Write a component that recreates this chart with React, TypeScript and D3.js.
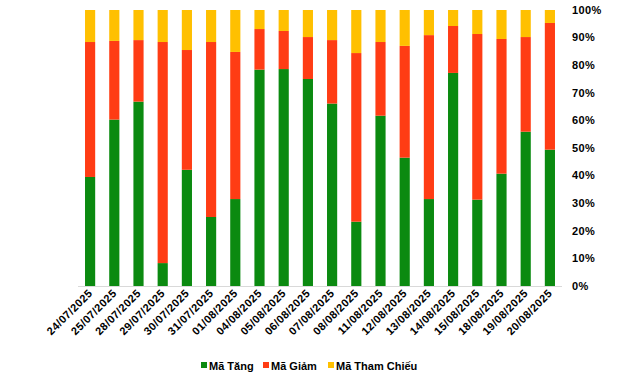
import React from "react";
import * as d3 from "d3";

const dates = ["24/07/2025","25/07/2025","28/07/2025","29/07/2025","30/07/2025","31/07/2025","01/08/2025","04/08/2025","05/08/2025","06/08/2025","07/08/2025","08/08/2025","11/08/2025","12/08/2025","13/08/2025","14/08/2025","15/08/2025","18/08/2025","19/08/2025","20/08/2025"];
const tang = [39.5,60.3,66.8,8.3,42.1,25.0,31.5,78.4,78.6,75.0,66.1,23.3,61.7,46.5,31.5,77.2,31.3,40.7,55.9,49.4];
const giam = [48.9,28.5,22.3,80.1,43.4,63.4,53.3,14.7,13.8,15.2,23.0,61.1,26.7,40.5,59.4,17.0,60.0,48.8,34.3,45.9];
const thamChieu = tang.map((t, i) => 100 - t - giam[i]);
const seriesNames = ["Mã Tăng","Mã Giảm","Mã Tham Chiếu"];
const colors = ["#0B8A10","#FF3C14","#FFC000"];
const yTicks = [0,10,20,30,40,50,60,70,80,90,100];

export default function App() {
  const W = 641, H = 376;
  const left = 78, right = 562, top = 10, bottom = 286;
  const x = d3.scaleBand().domain(dates).range([left, right]).paddingInner(0.58).paddingOuter(0.29);
  const y = d3.scaleLinear().domain([0, 100]).range([bottom, top]);
  const rows = dates.map((d, i) => ({ date: d, a: tang[i], b: giam[i], c: thamChieu[i] }));
  const stack = d3.stack<any>().keys(["a","b","c"])(rows);
  const font = "'Liberation Sans', Arial, sans-serif";
  const legendX = [201, 263, 328];
  return (
    <svg width={W} height={H} style={{ position: "absolute", left: 0, top: 0, background: "#fff" }}>
      {stack.map((s, si) => (
        <g key={si} fill={colors[si]}>
          {s.map((p, i) => (
            <rect key={i} x={x(dates[i])} width={x.bandwidth()} y={y(p[1])} height={y(p[0]) - y(p[1])} />
          ))}
        </g>
      ))}
      <line x1={left} x2={right} y1={bottom + 0.5} y2={bottom + 0.5} stroke="#D9D9D9" strokeWidth={1} />
      {yTicks.map(t => (
        <text key={t} x={572} y={y(t)} dy="0.35em" fontFamily={font} fontWeight="bold" fontSize={11} letterSpacing={0.4} fill="#000">{t}%</text>
      ))}
      {dates.map(d => {
        const cx = (x(d) as number) + x.bandwidth() / 2 + 3;
        const cy = 294;
        return (
          <text key={d} transform={`translate(${cx},${cy}) rotate(-45)`} textAnchor="end" fontFamily={font} fontWeight="bold" fontSize={11} letterSpacing={0.4} fill="#000">{d}</text>
        );
      })}
      {seriesNames.map((n, i) => (
        <g key={n}>
          <rect x={legendX[i]} y={362} width={6} height={6} fill={colors[i]} />
          <text x={legendX[i] + 8} y={366} dy="0.35em" fontFamily={font} fontWeight="bold" fontSize={11} fill="#000">{n}</text>
        </g>
      ))}
    </svg>
  );
}
